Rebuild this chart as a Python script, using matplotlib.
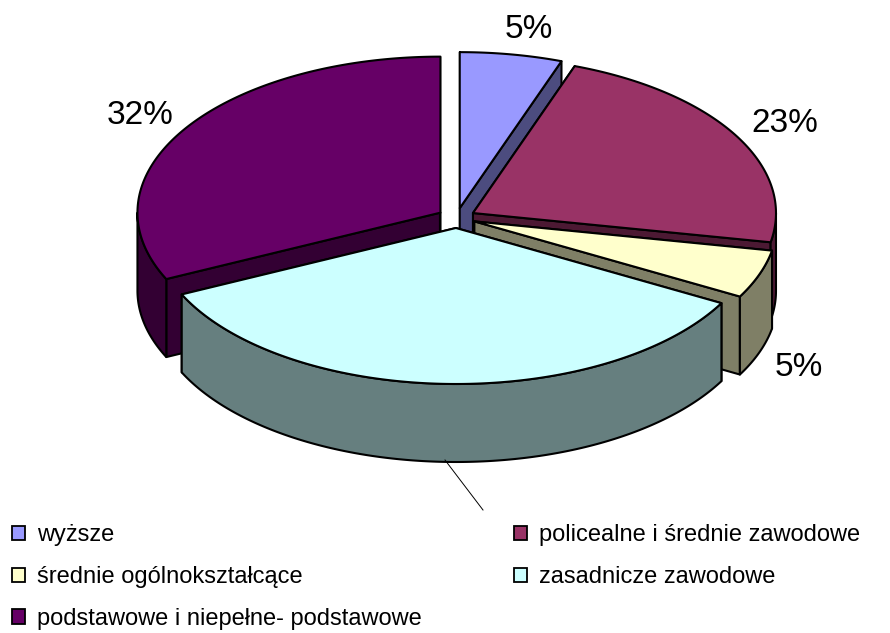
import numpy as np
import matplotlib
matplotlib.use("Agg")
import matplotlib.pyplot as plt
from matplotlib.patches import Patch, Polygon

plt.rcParams['font.family'] = ['Liberation Sans', 'DejaVu Sans']

categories = ["wyższe", "policealne i średnie zawodowe", "średnie ogólnokształcące",
              "zasadnicze zawodowe", "podstawowe i niepełne- podstawowe"]
values = [5.45, 22.55, 5, 35, 32]
value_labels = ["5%", "23%", "5%", "", "32%"]
top_colors = ["#9999FF", "#993366", "#FFFFCC", "#CCFFFF", "#660066"]
side_colors = ["#4C4C7F", "#4C1933", "#7F7F66", "#667F7F", "#330033"]

# layout, in figure pixels
CX, CY, RX, RY, DEPTH = 456.5, 218, 303, 156, 78
EX, EY = 19, 10
label_pos = [(529, 29), (785, 123), (799, 367), None, (140, 115)]
draw_order = [0, 4, 1, 2, 3]
leader = ([445, 483], [460, 510])

fig = plt.figure(figsize=(8.9, 6.33), dpi=100)
ax = fig.add_axes([0, 0, 1, 1])
ax.set_xlim(0, 890)
ax.set_ylim(633, 0)
ax.axis("off")

fractions = np.array(values, dtype=float) / np.sum(values)
edges = 2 * np.pi * np.concatenate([[0], np.cumsum(fractions)])


def arc(t0, t1, x0, y0):
    t = np.linspace(t0, t1, max(int((t1 - t0) * 90), 2))
    return np.column_stack([x0 + RX * np.sin(t), y0 - RY * np.cos(t)])


def poly(points, color, z):
    ax.add_patch(Polygon(points, closed=True, facecolor=color, edgecolor="black",
                         linewidth=1.5, joinstyle="round", zorder=z))


for z, i in enumerate(draw_order):
    t0, t1 = edges[i], edges[i + 1]
    mid = (t0 + t1) / 2
    x0 = CX + EX * np.sin(mid)
    y0 = CY - EY * np.cos(mid)
    tip = np.array([x0, y0])
    drop = np.array([0, DEPTH])
    base = z * 10
    # the two cut faces
    for t in (t0, t1):
        outer = arc(t, t, x0, y0)[0]
        poly([tip, outer, outer + drop, tip + drop], side_colors[i], base + 1)
    # outer wall, front half of the ellipse only
    a, b = max(t0, np.pi / 2), min(t1, 3 * np.pi / 2)
    if b > a:
        rim = arc(a, b, x0, y0)
        poly(np.vstack([rim, (rim + drop)[::-1]]), side_colors[i], base + 2)
    # top face
    poly(np.vstack([[tip], arc(t0, t1, x0, y0)]), top_colors[i], base + 3)
    if label_pos[i] is not None:
        ax.text(*label_pos[i], value_labels[i], fontsize=24, color="black",
                ha="center", va="center", zorder=200)

ax.plot(*leader, color="black", lw=0.7, zorder=150)

handles = [Patch(facecolor=c, edgecolor="black", linewidth=1.3) for c in top_colors]
order = [0, 2, 4, 1, 3]
ax.legend([handles[i] for i in order], [categories[i] for i in order],
          ncols=2, loc="upper left", bbox_to_anchor=(12, 524.5), bbox_transform=ax.transData,
          frameon=False, fontsize=17, borderpad=0, borderaxespad=0,
          handlelength=0.56, handleheight=0.56, handletextpad=0.5,
          labelspacing=0.83, columnspacing=3.9)

fig.savefig("out.png", dpi=100)
